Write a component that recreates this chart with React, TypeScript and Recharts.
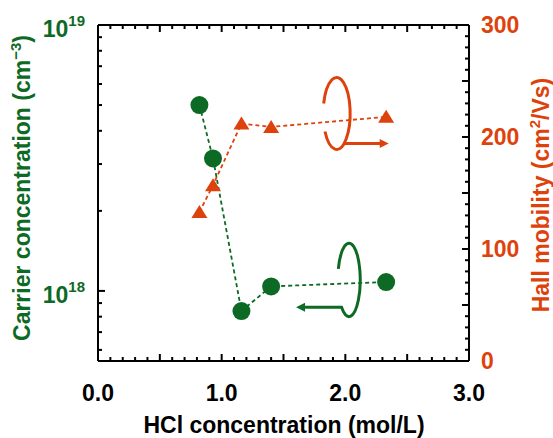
import React from 'react';
import { ComposedChart, Line, XAxis, YAxis, ReferenceDot } from 'recharts';

// HCl concentration (mol/L)
const hclConc = [0.82, 0.93, 1.16, 1.4, 2.33];
// carrier concentration (cm^-3)
const carrierConc = [5.0e18, 3.15e18, 8.4e17, 1.04e18, 1.08e18];
// Hall mobility (cm2/Vs)
const hallMobility = [133, 157, 212, 209, 218];

const xTicks = [
  0, 0.1, 0.2, 0.3, 0.4, 0.5, 0.6, 0.7, 0.8, 0.9, 1.0, 1.1, 1.2, 1.3, 1.4, 1.5,
  1.6, 1.7, 1.8, 1.9, 2.0, 2.1, 2.2, 2.3, 2.4, 2.5, 2.6, 2.7, 2.8, 2.9, 3.0,
];
const carrierTicks = [
  6e17, 7e17, 8e17, 9e17, 1e18, 2e18, 3e18, 4e18, 5e18, 6e18, 7e18, 8e18, 9e18, 1e19,
];
const mobilityTicks = [
  0, 10, 20, 30, 40, 50, 60, 70, 80, 90, 100, 110, 120, 130, 140, 150, 160, 170, 180,
  190, 200, 210, 220, 230, 240, 250, 260, 270, 280, 290, 300,
];

const data = hclConc.map((x, i) => ({ x, n: carrierConc[i], mu: hallMobility[i] }));

const GREEN = '#0d6a24';
const ORANGE = '#de420c';
const FONT = '"Liberation Sans", Arial, sans-serif';

const isMult = (v: number, step: number) => Math.abs(v / step - Math.round(v / step)) < 1e-6;

const BottomTick = (props: any) => {
  const { x, y, payload } = props;
  const v = payload.value;
  const len = isMult(v, 0.5) ? 7 : 4;
  return (
    <g>
      <line x1={x} y1={y} x2={x} y2={y - len} stroke="#000" strokeWidth={2} />
      {isMult(v, 1) && (
        <text x={x} y={y + 40} textAnchor="middle" fontFamily={FONT} fontWeight="bold" fontSize={23} fill="#000">
          {v.toFixed(1)}
        </text>
      )}
    </g>
  );
};

const TopTick = (props: any) => {
  const { x, y, payload } = props;
  const len = isMult(payload.value, 0.5) ? 7 : 4;
  return <line x1={x} y1={y} x2={x} y2={y + len} stroke="#000" strokeWidth={2} />;
};

const LeftTick = (props: any) => {
  const { x, y, payload } = props;
  const v = payload.value;
  const exp = Math.log10(v);
  const major = Math.abs(exp - Math.round(exp)) < 1e-6;
  return (
    <g>
      <line x1={x} y1={y} x2={x + (major ? 7 : 4)} y2={y} stroke="#000" strokeWidth={2} />
      {major && (
        <text x={x - 13} y={y + 12} textAnchor="end" fontFamily={FONT} fontWeight="bold" fontSize={23} fill={GREEN}>
          <tspan>10</tspan>
          <tspan dy={-11} fontSize={15}>{Math.round(exp)}</tspan>
        </text>
      )}
    </g>
  );
};

const RightTick = (props: any) => {
  const { x, y, payload } = props;
  const v = payload.value;
  const len = isMult(v, 50) ? 7 : 4;
  return (
    <g>
      <line x1={x} y1={y} x2={x - len} y2={y} stroke="#000" strokeWidth={2} />
      {isMult(v, 100) && (
        <text x={x + 12} y={y + 8} textAnchor="start" fontFamily={FONT} fontWeight="bold" fontSize={23} fill={ORANGE}>
          {v}
        </text>
      )}
    </g>
  );
};

const CircleDot = (props: any) => {
  const { cx, cy } = props;
  if (cx == null || cy == null) return null;
  return <circle cx={cx} cy={cy} r={9} fill={GREEN} />;
};

const TriangleDot = (props: any) => {
  const { cx, cy } = props;
  if (cx == null || cy == null) return null;
  return <polygon points={`${cx},${cy - 7} ${cx - 8},${cy + 6} ${cx + 8},${cy + 6}`} fill={ORANGE} />;
};

// rotation rings with arrows (decorations)
const OrangeRing = ({ cx, cy }: any) => (
  <g transform={`translate(${cx},${cy})`} fill="none" stroke={ORANGE} strokeWidth={3}>
    <path d="M -13 -10 A 13.5 36 0 1 1 -11.7 18" />
    <path d="M 7.5 30 L 44 30" />
    <polygon points="52,30 43,25.5 43,34.5" fill={ORANGE} stroke="none" />
  </g>
);

const GreenRing = ({ cx, cy }: any) => (
  <g transform={`translate(${cx},${cy})`} fill="none" stroke={GREEN} strokeWidth={3}>
    <path d="M -10.7 -11 A 11.2 36.7 0 1 1 -7.5 27.3 L -44 27.3" />
    <polygon points="-53,27.3 -44,22.8 -44,31.8" fill={GREEN} stroke="none" />
  </g>
);

const axisLine = { stroke: '#000', strokeWidth: 2 };

export default function App() {
  return (
    <div style={{ position: 'absolute', left: 0, top: 0, background: '#fff' }}>
      <ComposedChart width={553} height={438} data={data} margin={{ top: 0, right: 0, bottom: 0, left: 0 }}>
        <XAxis
          dataKey="x"
          type="number"
          domain={[0, 3]}
          ticks={xTicks}
          interval={0}
          height={77}
          axisLine={axisLine}
          tickLine={false}
          tickSize={0}
          tickMargin={0}
          tick={<BottomTick />}
          label={{
            content: () => (
              <text x={284} y={433} textAnchor="middle" fontFamily={FONT} fontWeight="bold" fontSize={23} fill="#000">
                HCl concentration (mol/L)
              </text>
            ),
          }}
        />
        <XAxis
          xAxisId="top"
          orientation="top"
          dataKey="x"
          type="number"
          domain={[0, 3]}
          ticks={xTicks}
          interval={0}
          height={25}
          axisLine={axisLine}
          tickLine={false}
          tickSize={0}
          tickMargin={0}
          tick={<TopTick />}
        />
        <YAxis
          yAxisId="n"
          scale="log"
          type="number"
          domain={[5.45e17, 1e19]}
          allowDataOverflow
          ticks={carrierTicks}
          interval={0}
          width={98}
          axisLine={axisLine}
          tickLine={false}
          tickSize={0}
          tickMargin={0}
          tick={<LeftTick />}
          label={{
            content: () => (
              <text
                x={30}
                y={188}
                transform="rotate(-90 30 188)"
                textAnchor="middle"
                fontFamily={FONT}
                fontWeight="bold"
                fontSize={23}
                fill={GREEN}
              >
                Carrier concentration (cm
                <tspan dy={-9} fontSize={15}>−3</tspan>
                <tspan dy={9}>)</tspan>
              </text>
            ),
          }}
        />
        <YAxis
          yAxisId="mu"
          orientation="right"
          type="number"
          domain={[0, 300]}
          ticks={mobilityTicks}
          interval={0}
          width={84}
          axisLine={axisLine}
          tickLine={false}
          tickSize={0}
          tickMargin={0}
          tick={<RightTick />}
          label={{
            content: () => (
              <text
                x={549}
                y={195}
                transform="rotate(-90 549 195)"
                textAnchor="middle"
                fontFamily={FONT}
                fontWeight="bold"
                fontSize={23}
                fill={ORANGE}
              >
                Hall mobility (cm
                <tspan dy={-9} fontSize={15}>2</tspan>
                <tspan dy={9}>/Vs)</tspan>
              </text>
            ),
          }}
        />
        <Line
          yAxisId="mu"
          dataKey="mu"
          type="linear"
          stroke={ORANGE}
          strokeWidth={1.8}
          strokeDasharray="4 3"
          dot={<TriangleDot />}
          activeDot={false}
          isAnimationActive={false}
        />
        <Line
          yAxisId="n"
          dataKey="n"
          type="linear"
          stroke={GREEN}
          strokeWidth={1.8}
          strokeDasharray="4 3"
          dot={<CircleDot />}
          activeDot={false}
          isAnimationActive={false}
        />
        <ReferenceDot yAxisId="mu" x={1.93} y={221} shape={(p: any) => <OrangeRing cx={p.cx} cy={p.cy} />} />
        <ReferenceDot yAxisId="n" x={2.03} y={1.1e18} shape={(p: any) => <GreenRing cx={p.cx} cy={p.cy} />} />
      </ComposedChart>
    </div>
  );
}
